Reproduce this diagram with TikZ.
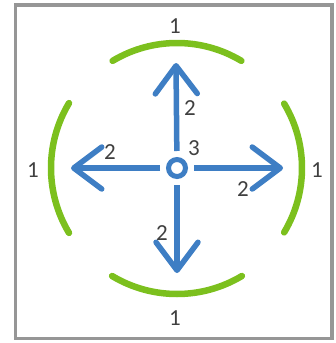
\documentclass[tikz,border=0pt]{standalone}
\usepackage{fontspec}
\setmainfont{Carlito}
\usetikzlibrary{arrows.meta}
\definecolor{cblue}{RGB}{62,126,196}
\definecolor{cgreen}{RGB}{124,192,30}
\definecolor{ctext}{RGB}{64,64,64}
\definecolor{cframe}{RGB}{150,150,150}
\tikzset{
  arr/.style={draw=cblue, line width=5.5pt, shorten <=6pt,
    -{Straight Barb[length=28pt,width=42pt,round]}},
  greenarc/.style={draw=cgreen, line width=6.5pt, line cap=round},
  lbl/.style={text=ctext, font=\fontsize{23}{23}\selectfont, inner sep=0pt}
}
\begin{document}
\begin{tikzpicture}[x=1pt,y=-1pt]
\useasboundingbox (0,0) rectangle (335,343);
\draw[cframe, line width=3.5pt] (15.5,5) rectangle (332,338.5);
% center
\node[draw=cblue, line width=5pt, circle, minimum size=17pt, inner sep=0pt] (c) at (177,168) {};
\coordinate (tu) at (176,63);
\coordinate (td) at (177,273);
\coordinate (tl) at (71,168);
\coordinate (tr) at (283,168);
\draw[arr] (c) -- (tu);
\draw[arr] (c) -- (td);
\draw[arr] (c) -- (tl);
\draw[arr] (c) -- (tr);
% green arcs
\draw[greenarc] (c.center) ++(-121:125) arc[start angle=-121, end angle=-59, radius=125];
\draw[greenarc] (c.center) ++(59:126) arc[start angle=59, end angle=121, radius=126];
\draw[greenarc] (c.center) ++(149:126) arc[start angle=149, end angle=211, radius=126];
\draw[greenarc] (c.center) ++(-31:125) arc[start angle=-31, end angle=31, radius=125];
% labels
\node[lbl] (l1t) at (175,26) {1};
\node[lbl] (l1b) at (175,318) {1};
\node[lbl] (l1l) at (33,170) {1};
\node[lbl] (l1r) at (317,170) {1};
\node[lbl] (l2u) at (190,108) {2};
\node[lbl] (l2l) at (110,152) {2};
\node[lbl] (l2r) at (243,189) {2};
\node[lbl] (l2d) at (162,233) {2};
\node[lbl] (l3) at (194,148) {3};
\end{tikzpicture}
\end{document}
